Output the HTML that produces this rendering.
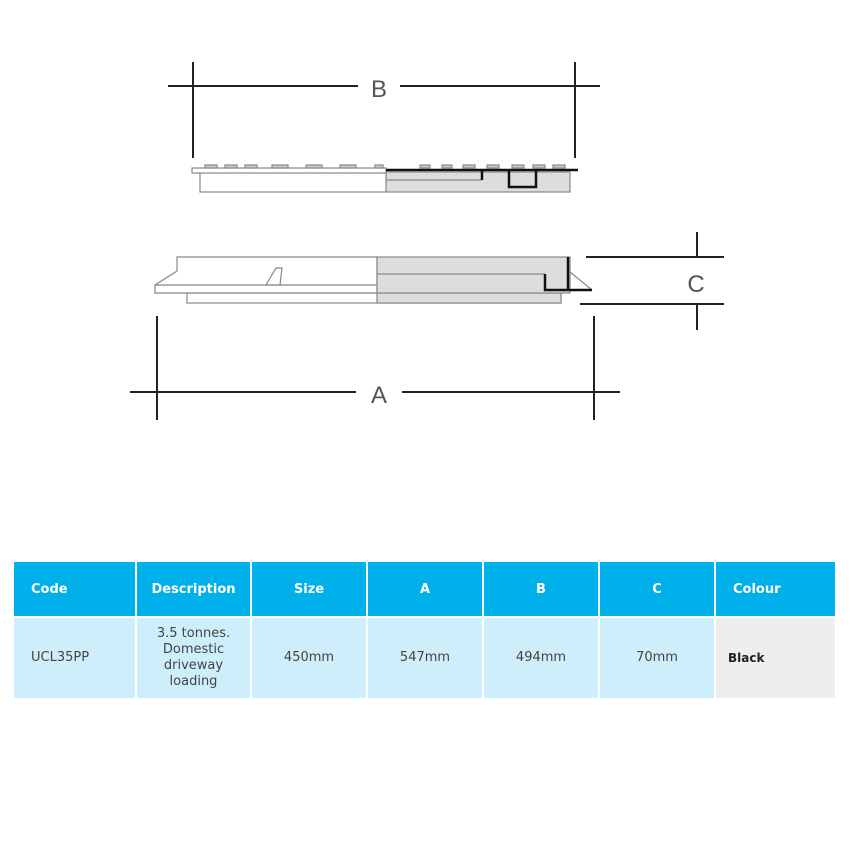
<!DOCTYPE html>
<html><head><style>
body{margin:0;width:850px;height:850px;background:#fff;font-family:"DejaVu Sans","Liberation Sans",sans-serif;position:relative;overflow:hidden}
table{position:absolute;left:12px;top:560px;border-collapse:separate;border-spacing:2px;}
td{text-align:center;font-size:13px;color:#444;padding:0;}
tr.h td{background:#00b0ea;color:#fff;font-weight:bold;height:54px;font-size:13px}
tr.b td{background:#cdeefa;height:80px;line-height:16px}
</style></head><body>
<svg width="850" height="520" style="position:absolute;left:0;top:0" xmlns="http://www.w3.org/2000/svg">
<g stroke="#222" stroke-width="2" fill="none">
<line x1="168" y1="86" x2="358" y2="86"/><line x1="400" y1="86" x2="600" y2="86"/>
<line x1="193" y1="62" x2="193" y2="158"/><line x1="575" y1="62" x2="575" y2="158"/>
<line x1="130" y1="392" x2="356" y2="392"/><line x1="402" y1="392" x2="620" y2="392"/>
<line x1="157" y1="316" x2="157" y2="420"/><line x1="594" y1="316" x2="594" y2="420"/>
<line x1="586" y1="257" x2="724" y2="257"/><line x1="580" y1="304" x2="724" y2="304"/>
<line x1="697" y1="232" x2="697" y2="258"/><line x1="697" y1="304" x2="697" y2="330"/>
</g>
<text x="379" y="97" font-size="24" fill="#555" text-anchor="middle" font-family="Liberation Sans">B</text>
<text x="379" y="403" font-size="24" fill="#555" text-anchor="middle" font-family="Liberation Sans">A</text>
<text x="696" y="292" font-size="24" fill="#555" text-anchor="middle" font-family="Liberation Sans">C</text>
<g stroke="#888" stroke-width="1.2">
<rect x="386" y="172" width="184" height="20" fill="#ddd"/>
<rect x="200" y="172" width="186" height="20" fill="#fff"/>
<rect x="192" y="168" width="194" height="5" fill="#fff"/>
<g fill="#ccc"><rect x="205" y="165" width="12" height="3"/><rect x="225" y="165" width="12" height="3"/><rect x="245" y="165" width="12" height="3"/><rect x="272" y="165" width="16" height="3"/><rect x="306" y="165" width="16" height="3"/><rect x="340" y="165" width="16" height="3"/><rect x="375" y="165" width="8" height="3"/><rect x="420" y="165" width="10" height="3"/><rect x="442" y="165" width="10" height="3"/><rect x="463" y="165" width="12" height="3"/><rect x="487" y="165" width="12" height="3"/><rect x="512" y="165" width="12" height="3"/><rect x="533" y="165" width="12" height="3"/><rect x="553" y="165" width="12" height="3"/></g>
<line x1="386" y1="180" x2="482" y2="180"/>
</g>
<g stroke="#111" stroke-width="2.5" fill="none">
<polyline points="386,170 578,170"/>
<polyline points="482,170 482,180"/>
<polyline points="509,170 509,187 536,187 536,170"/>
</g>
<g stroke="#888" stroke-width="1.2">
<rect x="187" y="293" width="374" height="10" fill="#fff"/>
<rect x="377" y="293" width="184" height="10" fill="#ddd"/>
<polygon points="155,293 155,285 177,271 177,257 377,257 377,293" fill="#fff"/>
<rect x="377" y="257" width="193" height="36" fill="#ddd"/>
<line x1="155" y1="285" x2="377" y2="285"/>
<line x1="377" y1="274" x2="545" y2="274"/>
<polygon points="266,285 276,268 282,268 280,285" fill="#fff"/>
<polyline points="570,272 592,290" fill="none"/>
</g>
<g stroke="#111" stroke-width="2.5" fill="none">
<polyline points="545,274 545,290 592,290"/>
<polyline points="568,257 568,290"/>
</g>
</svg>
<table>
<tr class="h"><td style="width:121px;text-align:left;padding-left:17px;box-sizing:border-box">Code</td><td style="width:113px">Description</td><td style="width:114px">Size</td><td style="width:114px">A</td><td style="width:114px">B</td><td style="width:114px">C</td><td style="width:119px;text-align:left;padding-left:17px;box-sizing:border-box">Colour</td></tr>
<tr class="b"><td style="text-align:left;padding-left:17px">UCL35PP</td><td>3.5 tonnes.<br>Domestic<br>driveway<br>loading</td><td>450mm</td><td>547mm</td><td>494mm</td><td>70mm</td><td style="background:#eee;text-align:left;padding-left:12px;font-weight:bold;color:#222;font-size:12px;vertical-align:top;padding-top:32px;box-sizing:border-box">Black</td></tr>
</table>
</body></html>
